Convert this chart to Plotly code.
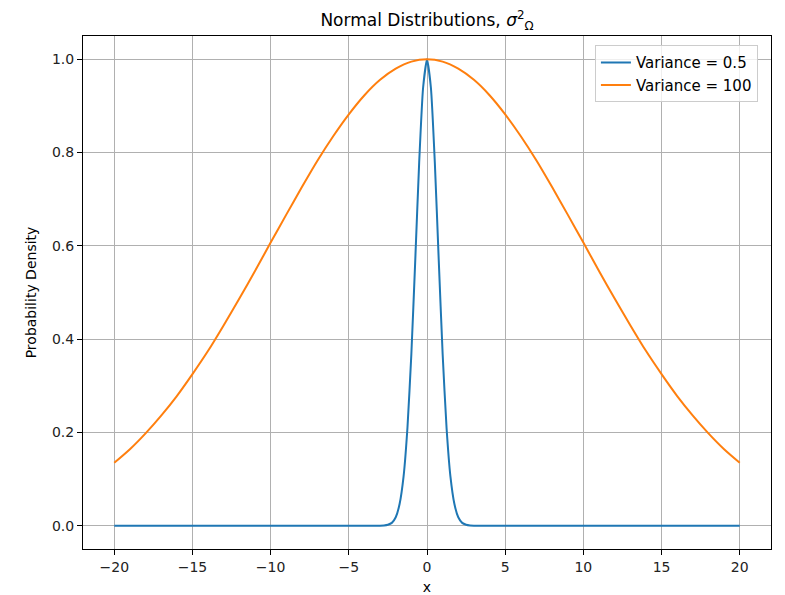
import plotly.graph_objects as go

# Values
x_orange = list(range(-20, 21))
y_orange_half = [1.0, 0.995, 0.980, 0.956, 0.923, 0.882, 0.835, 0.783, 0.726, 0.667,
                 0.607, 0.546, 0.487, 0.430, 0.375, 0.325, 0.278, 0.236, 0.198, 0.164, 0.135]
y_orange = y_orange_half[:0:-1] + y_orange_half

x_blue = [-20, -10, -3.0, -2.75, -2.5, -2.25, -2.0, -1.75, -1.5, -1.25, -1.0, -0.75, -0.5, -0.25,
          0.0, 0.25, 0.5, 0.75, 1.0, 1.25, 1.5, 1.75, 2.0, 2.25, 2.5, 2.75, 3.0, 10, 20]
y_blue = [0.0, 0.0, 0.0001, 0.0005, 0.002, 0.006, 0.018, 0.047, 0.105, 0.210, 0.368, 0.570, 0.779, 0.939,
          1.0, 0.939, 0.779, 0.570, 0.368, 0.210, 0.105, 0.047, 0.018, 0.006, 0.002, 0.0005, 0.0001, 0.0, 0.0]

series_names = ["Variance = 0.5", "Variance = 100"]
x_ticks = [-20, -15, -10, -5, 0, 5, 10, 15, 20]
y_ticks = [0.0, 0.2, 0.4, 0.6, 0.8, 1.0]

font = "DejaVu Sans"
W, H = 785, 595
OFF = 8  # page body margin

fig = go.Figure()
fig.add_trace(go.Scatter(x=x_blue, y=y_blue, mode="lines", name=series_names[0],
                         line=dict(color="#1f77b4", width=2, shape="spline", smoothing=0.5)))
fig.add_trace(go.Scatter(x=x_orange, y=y_orange, mode="lines", name=series_names[1],
                         line=dict(color="#ff7f0e", width=2, shape="spline", smoothing=0.8)))

axis_common = dict(showline=True, linecolor="black", linewidth=1, mirror=True,
                   ticks="outside", ticklen=5, tickcolor="black", tickwidth=1,
                   showgrid=True, gridcolor="#b0b0b0", gridwidth=1, zeroline=False,
                   automargin=False,
                   tickfont=dict(family=font, size=14, color="#222"))

fig.update_layout(
    width=W, height=H,
    margin=dict(l=83 - OFF, r=14 + OFF, t=36 - OFF, b=46 + OFF),
    paper_bgcolor="white", plot_bgcolor="white",
    title=dict(text="Normal Distributions, <i>σ</i><sup>2</sup><sub>Ω</sub>",
               x=(427 - OFF) / W, xanchor="center",
               yref="container", y=1 - (20 - OFF) / H, yanchor="middle",
               font=dict(family=font, size=17, color="black")),
    xaxis=dict(range=[-22, 22], tickvals=x_ticks,
               ticktext=[("\u2212" + str(-v)) if v < 0 else str(v) for v in x_ticks],
               title=dict(text="x", font=dict(family=font, size=14, color="black"), standoff=8),
               **axis_common),
    yaxis=dict(range=[-0.05, 1.05], tickvals=y_ticks,
               ticktext=[f"{v:.1f}" for v in y_ticks],
               title=dict(text="Probability Density", font=dict(family=font, size=14, color="black"), standoff=12),
               **axis_common),
    legend=dict(x=0.981, y=0.982, xanchor="right", yanchor="top",
                bgcolor="rgba(255,255,255,0.8)", bordercolor="#cccccc", borderwidth=1,
                font=dict(family=font, size=15, color="black"), tracegroupgap=0),
    showlegend=True,
)

fig.write_html("out.html")
